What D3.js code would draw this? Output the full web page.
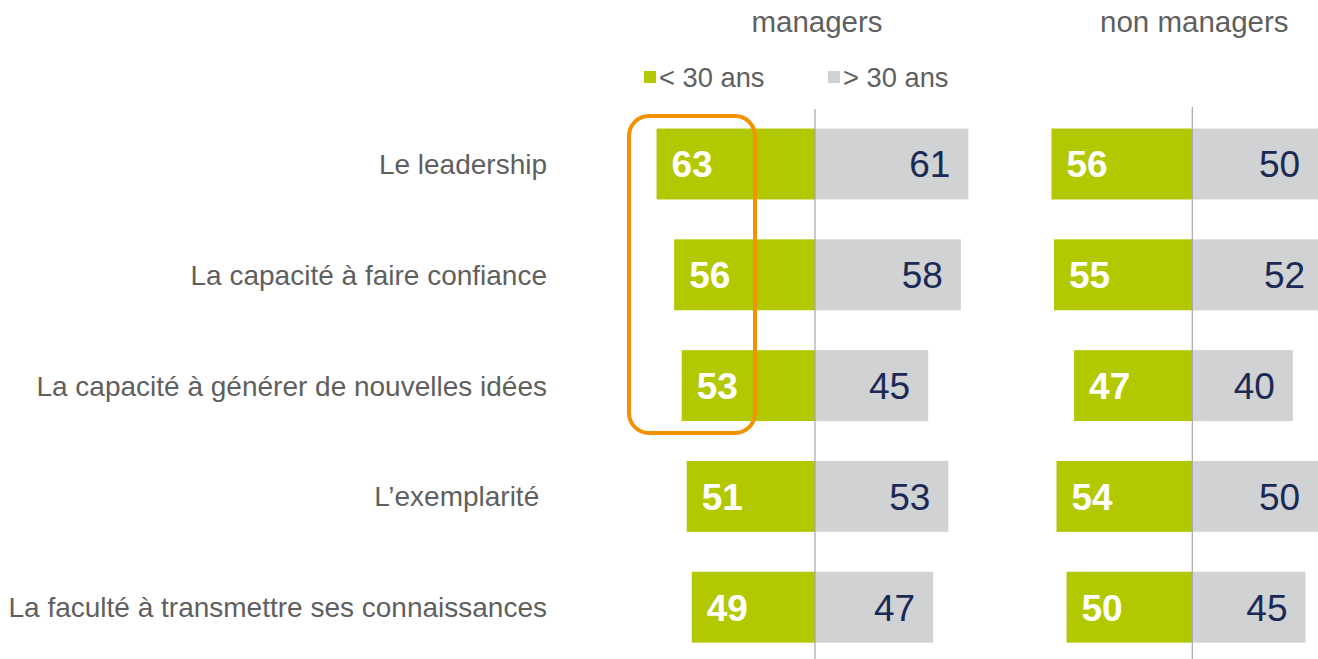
<!DOCTYPE html>
<html>
<head>
<meta charset="utf-8">
<script src="https://cdn.jsdelivr.net/npm/d3@7"></script>
<style>
  html, body { margin: 0; padding: 0; background: #fff; }
  svg { display: block; font-family: "Liberation Sans", Arial, sans-serif; }
</style>
</head>
<body>
<svg id="chart" width="1318" height="659"></svg>
<script>
// données
var categories = [
    "Le leadership",
    "La capacité à faire confiance",
    "La capacité à générer de nouvelles idées",
    "L’exemplarité ",
    "La faculté à transmettre ses connaissances"
];
var groups = ["managers", "non managers"];
var seriesNames = ["< 30 ans", "> 30 ans"];
var managersUnder30 = [63, 56, 53, 51, 49];
var managersOver30 = [61, 58, 45, 53, 47];
var nonManagersUnder30 = [56, 55, 47, 54, 50];
var nonManagersOver30 = [50, 52, 40, 50, 45];

var green = "#B2C800",
    grey = "#D0D2D4",
    navy = "#1B2A55",
    textGrey = "#5F5F5F";

var svg = d3.select("#chart");

// echelles
var yScale = d3.scaleBand().domain(categories).range([108.6, 662.6])
    .paddingInner(0.36).paddingOuter(0.18);
var xLen = d3.scaleLinear().domain([0, 100]).range([0, 251.5]);

var panels = [
    { name: groups[0], center: 815, under: managersUnder30, over: managersOver30, lineTop: 109 },
    { name: groups[1], center: 1192.3, under: nonManagersUnder30, over: nonManagersOver30, lineTop: 107 }
];

// libellés des catégories
svg.append("g").selectAll("text").data(categories)
    .enter().append("text")
    .attr("x", 547)
    .attr("y", function (d) { return yScale(d) + yScale.bandwidth() / 2; })
    .attr("dy", "0.36em")
    .attr("text-anchor", "end")
    .attr("font-size", 28)
    .attr("fill", textGrey)
    .style("white-space", "pre")
    .text(function (d) { return d; });

panels.forEach(function (p) {
    var g = svg.append("g");

    // titre
    g.append("text")
        .attr("x", p.center + 2)
        .attr("y", 32)
        .attr("text-anchor", "middle")
        .attr("font-size", 29.5)
        .attr("fill", textGrey)
        .text(p.name);

    // barres < 30 ans (vers la gauche)
    g.selectAll(".under").data(p.under)
        .enter().append("rect")
        .attr("class", "under")
        .attr("x", function (d) { return p.center - xLen(d); })
        .attr("y", function (d, i) { return yScale(categories[i]); })
        .attr("width", function (d) { return xLen(d); })
        .attr("height", yScale.bandwidth())
        .attr("fill", green);

    // barres > 30 ans (vers la droite)
    g.selectAll(".over").data(p.over)
        .enter().append("rect")
        .attr("class", "over")
        .attr("x", p.center)
        .attr("y", function (d, i) { return yScale(categories[i]); })
        .attr("width", function (d) { return xLen(d); })
        .attr("height", yScale.bandwidth())
        .attr("fill", grey);

    // axe central
    g.append("line")
        .attr("x1", p.center).attr("x2", p.center)
        .attr("y1", p.lineTop).attr("y2", 659)
        .attr("stroke", "#A6A6A6")
        .attr("stroke-width", 1.2);

    // valeurs
    g.selectAll(".underLabel").data(p.under)
        .enter().append("text")
        .attr("x", function (d) { return p.center - xLen(d) + 15; })
        .attr("y", function (d, i) { return yScale(categories[i]) + yScale.bandwidth() / 2; })
        .attr("dy", "0.36em")
        .attr("font-size", 37)
        .attr("font-weight", "bold")
        .attr("fill", "#fff")
        .text(function (d) { return d; });

    g.selectAll(".overLabel").data(p.over)
        .enter().append("text")
        .attr("x", function (d) { return p.center + xLen(d) - 18; })
        .attr("y", function (d, i) { return yScale(categories[i]) + yScale.bandwidth() / 2; })
        .attr("dy", "0.36em")
        .attr("text-anchor", "end")
        .attr("font-size", 37)
        .attr("fill", navy)
        .text(function (d) { return d; });
});

// légende
var legendX = [644, 828];
var legend = svg.append("g").selectAll("g").data(seriesNames)
    .enter().append("g")
    .attr("transform", function (d, i) { return "translate(" + legendX[i] + ",77)"; });
legend.append("rect")
    .attr("x", 0).attr("y", -6)
    .attr("width", 12).attr("height", 12)
    .attr("fill", function (d, i) { return i == 0 ? green : grey; });
legend.append("text")
    .attr("x", 15)
    .attr("dy", "0.36em")
    .attr("font-size", 27.3)
    .attr("fill", textGrey)
    .text(function (d) { return d; });

// encadré orange sur les trois premiers managers < 30 ans
var boxTop = yScale(categories[0]) - 12.5,
    boxBottom = yScale(categories[2]) + yScale.bandwidth() + 12;
svg.append("rect")
    .attr("x", 629)
    .attr("y", boxTop)
    .attr("width", 126)
    .attr("height", boxBottom - boxTop)
    .attr("rx", 20)
    .attr("fill", "none")
    .attr("stroke", "#F39200")
    .attr("stroke-width", 4);
</script>
</body>
</html>
